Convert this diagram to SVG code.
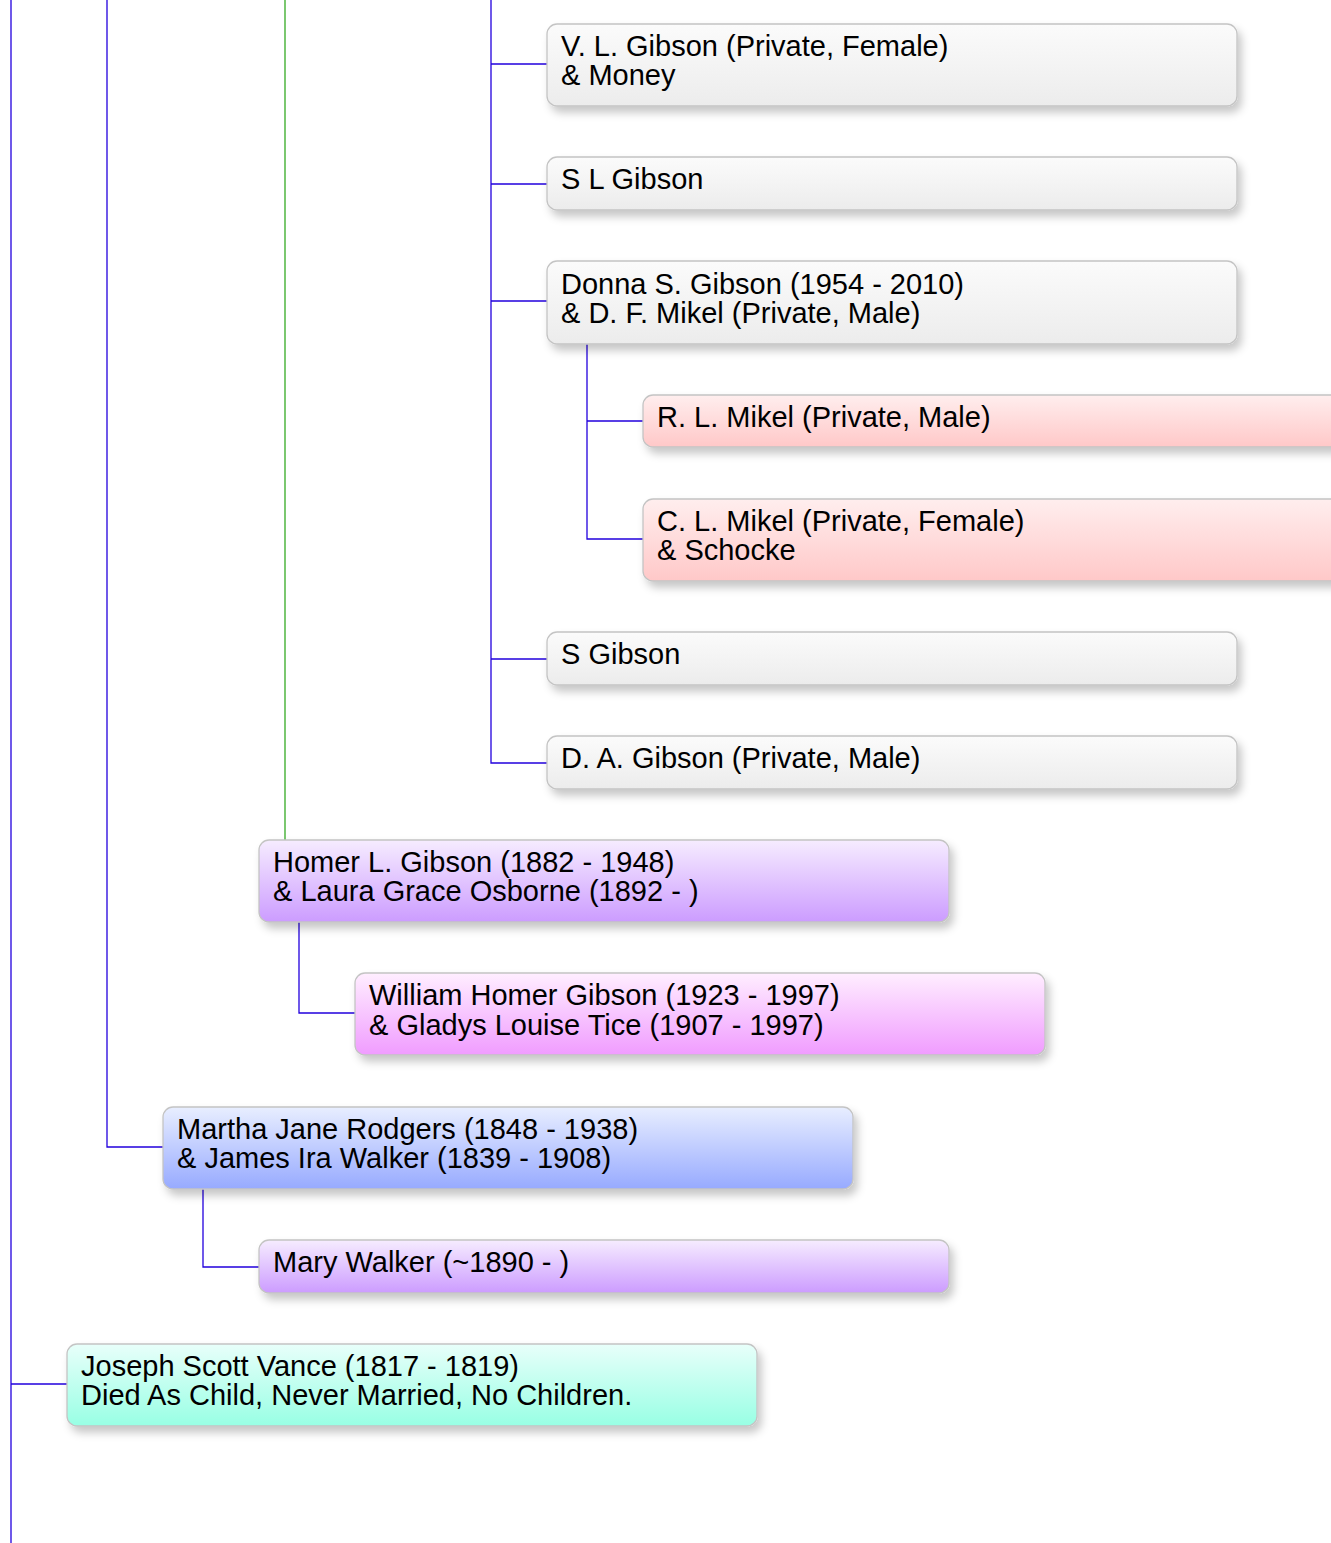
<svg xmlns="http://www.w3.org/2000/svg" width="1331" height="1543" viewBox="0 0 1331 1543">
<defs>
<filter id="sh" x="-5%" y="-20%" width="112%" height="150%">
<feDropShadow dx="4" dy="6" stdDeviation="4" flood-color="#000" flood-opacity="0.22"/>
</filter>
<linearGradient id="gGray" x1="0" y1="0" x2="0" y2="1"><stop offset="0" stop-color="#fbfbfb"/><stop offset="1" stop-color="#ececec"/></linearGradient>
<linearGradient id="gPink" x1="0" y1="0" x2="0" y2="1"><stop offset="0" stop-color="#ffeeee"/><stop offset="1" stop-color="#ffc8c8"/></linearGradient>
<linearGradient id="gPurple" x1="0" y1="0" x2="0" y2="1"><stop offset="0" stop-color="#f6ecff"/><stop offset="1" stop-color="#cc9cff"/></linearGradient>
<linearGradient id="gMagenta" x1="0" y1="0" x2="0" y2="1"><stop offset="0" stop-color="#ffeeff"/><stop offset="1" stop-color="#f09cff"/></linearGradient>
<linearGradient id="gBlue" x1="0" y1="0" x2="0" y2="1"><stop offset="0" stop-color="#e8eeff"/><stop offset="1" stop-color="#97aaff"/></linearGradient>
<linearGradient id="gTeal" x1="0" y1="0" x2="0" y2="1"><stop offset="0" stop-color="#e8fffa"/><stop offset="1" stop-color="#98ffe4"/></linearGradient>
</defs>
<style>
.box{stroke:#c4c4c4;stroke-width:1.3;filter:url(#sh)}
.t{font-family:"Liberation Sans",Arial,Helvetica,sans-serif;font-size:29px;fill:#000}
.c{fill:none;stroke:#2200dd;stroke-width:1.3}
.cg{fill:none;stroke:#33aa22;stroke-width:1.3}
</style>
<rect width="1331" height="1543" fill="#fff"/>
<g id="connectors">
<path class="c" d="M11 0V1543M11 1384H67"/>
<path class="c" d="M107 0V1147H163"/>
<path class="cg" d="M285 0V840"/>
<path class="c" d="M491 0V763H547M491 64H547M491 184H547M491 301H547M491 659H547"/>
<path class="c" d="M587 344V539H643M587 421H643"/>
<path class="c" d="M299 922V1013H355"/>
<path class="c" d="M203 1189V1267H259"/>
</g>
<g id="n_vl"><rect class="box" x="547" y="24" width="690" height="82" rx="10" fill="url(#gGray)"/><text class="t" x="561" y="56">V. L. Gibson (Private, Female)</text><text class="t" x="561" y="85">&amp; Money</text></g>
<g id="n_sl"><rect class="box" x="547" y="157" width="690" height="53" rx="10" fill="url(#gGray)"/><text class="t" x="561" y="189">S L Gibson</text></g>
<g id="n_donna"><rect class="box" x="547" y="261" width="690" height="83" rx="10" fill="url(#gGray)"/><text class="t" x="561" y="294">Donna S. Gibson (1954 - 2010)</text><text class="t" x="561" y="323">&amp; D. F. Mikel (Private, Male)</text></g>
<g id="n_rl"><rect class="box" x="643" y="395" width="700" height="52" rx="10" fill="url(#gPink)"/><text class="t" x="657" y="427">R. L. Mikel (Private, Male)</text></g>
<g id="n_cl"><rect class="box" x="643" y="499" width="700" height="82" rx="10" fill="url(#gPink)"/><text class="t" x="657" y="531">C. L. Mikel (Private, Female)</text><text class="t" x="657" y="560">&amp; Schocke</text></g>
<g id="n_s"><rect class="box" x="547" y="632" width="690" height="53" rx="10" fill="url(#gGray)"/><text class="t" x="561" y="664">S Gibson</text></g>
<g id="n_da"><rect class="box" x="547" y="736" width="690" height="53" rx="10" fill="url(#gGray)"/><text class="t" x="561" y="768">D. A. Gibson (Private, Male)</text></g>
<g id="n_homer"><rect class="box" x="259" y="840" width="690" height="82" rx="10" fill="url(#gPurple)"/><text class="t" x="273" y="872">Homer L. Gibson (1882 - 1948)</text><text class="t" x="273" y="901">&amp; Laura Grace Osborne (1892 - )</text></g>
<g id="n_william"><rect class="box" x="355" y="973" width="690" height="82" rx="10" fill="url(#gMagenta)"/><text class="t" x="369" y="1005">William Homer Gibson (1923 - 1997)</text><text class="t" x="369" y="1035">&amp; Gladys Louise Tice (1907 - 1997)</text></g>
<g id="n_martha"><rect class="box" x="163" y="1107" width="690" height="82" rx="10" fill="url(#gBlue)"/><text class="t" x="177" y="1139">Martha Jane Rodgers (1848 - 1938)</text><text class="t" x="177" y="1168">&amp; James Ira Walker (1839 - 1908)</text></g>
<g id="n_mary"><rect class="box" x="259" y="1240" width="690" height="53" rx="10" fill="url(#gPurple)"/><text class="t" x="273" y="1272">Mary Walker (~1890 - )</text></g>
<g id="n_joseph"><rect class="box" x="67" y="1344" width="690" height="82" rx="10" fill="url(#gTeal)"/><text class="t" x="81" y="1376">Joseph Scott Vance (1817 - 1819)</text><text class="t" x="81" y="1405">Died As Child, Never Married, No Children.</text></g>
</svg>
